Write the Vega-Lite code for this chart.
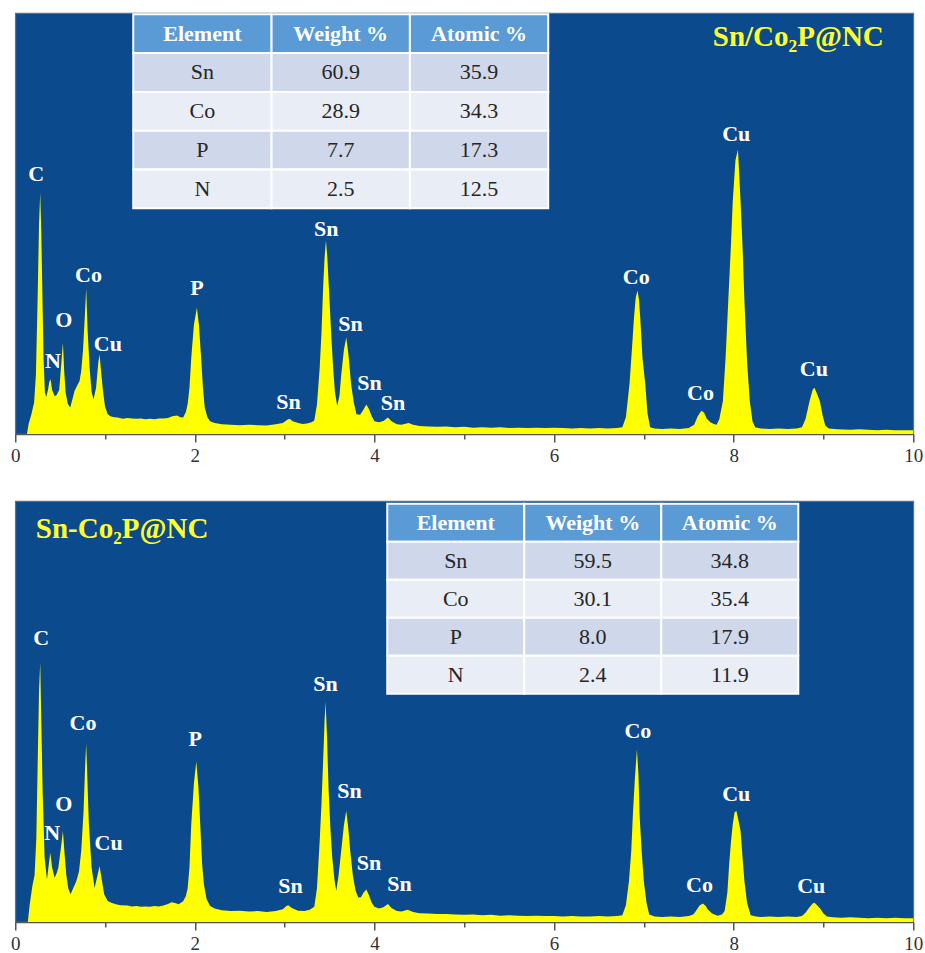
{
  "$schema": "https://vega.github.io/schema/vega-lite/v6.json",
  "background": "white",
  "padding": {"left": 9.25, "top": 12, "right": 0, "bottom": 0},
  "bounds": "flush",
  "spacing": 67,
  "config": {
    "view": {"fill": "#0b4a8d", "stroke": "#6e6e6e", "strokeWidth": 1.2},
    "font": "Liberation Serif",
    "axis": {
      "grid": false,
      "title": null,
      "labelFont": "Liberation Serif",
      "labelFontSize": 19,
      "labelColor": "#333333",
      "labelPadding": 4,
      "labelFlush": false,
      "labelOverlap": false,
      "domainColor": "#555555",
      "domainWidth": 1.5,
      "tickColor": "#555555",
      "tickWidth": 1.5
    }
  },
  "datasets": {
    "specA": [
      {"keV": 0.00, "counts": 0}, {"keV": 0.13, "counts": 0}, {"keV": 0.15, "counts": 2.5}, {"keV": 0.18, "counts": 4.7},
      {"keV": 0.21, "counts": 7.5}, {"keV": 0.23, "counts": 14}, {"keV": 0.25, "counts": 33}, {"keV": 0.265, "counts": 50},
      {"keV": 0.278, "counts": 57.3}, {"keV": 0.29, "counts": 48}, {"keV": 0.30, "counts": 36}, {"keV": 0.315, "counts": 18},
      {"keV": 0.33, "counts": 10}, {"keV": 0.345, "counts": 8.8}, {"keV": 0.365, "counts": 10.5}, {"keV": 0.38, "counts": 12.5},
      {"keV": 0.393, "counts": 13.0}, {"keV": 0.41, "counts": 10.5}, {"keV": 0.438, "counts": 9.0}, {"keV": 0.46, "counts": 9.2},
      {"keV": 0.49, "counts": 10.5}, {"keV": 0.51, "counts": 16}, {"keV": 0.531, "counts": 21.7}, {"keV": 0.545, "counts": 15},
      {"keV": 0.56, "counts": 10}, {"keV": 0.585, "counts": 7.2}, {"keV": 0.612, "counts": 6.3}, {"keV": 0.64, "counts": 8.5},
      {"keV": 0.66, "counts": 10.2}, {"keV": 0.69, "counts": 11.5}, {"keV": 0.716, "counts": 12.6}, {"keV": 0.735, "counts": 15},
      {"keV": 0.754, "counts": 19.7}, {"keV": 0.775, "counts": 28}, {"keV": 0.79, "counts": 34.6}, {"keV": 0.805, "counts": 25},
      {"keV": 0.828, "counts": 15.7}, {"keV": 0.85, "counts": 10}, {"keV": 0.872, "counts": 8.2}, {"keV": 0.90, "counts": 11},
      {"keV": 0.925, "counts": 17}, {"keV": 0.939, "counts": 18.9}, {"keV": 0.955, "counts": 15}, {"keV": 0.977, "counts": 10.2},
      {"keV": 1.00, "counts": 6.5}, {"keV": 1.03, "counts": 4.7}, {"keV": 1.06, "counts": 4.2}, {"keV": 1.10, "counts": 4.0},
      {"keV": 1.14, "counts": 3.9}, {"keV": 1.20, "counts": 3.6}, {"keV": 1.25, "counts": 3.8}, {"keV": 1.30, "counts": 3.7},
      {"keV": 1.35, "counts": 3.6}, {"keV": 1.40, "counts": 3.7}, {"keV": 1.45, "counts": 3.5}, {"keV": 1.50, "counts": 3.6},
      {"keV": 1.55, "counts": 3.5}, {"keV": 1.60, "counts": 3.7}, {"keV": 1.65, "counts": 3.7}, {"keV": 1.70, "counts": 3.8},
      {"keV": 1.75, "counts": 4.2}, {"keV": 1.80, "counts": 4.4}, {"keV": 1.84, "counts": 4.0}, {"keV": 1.87, "counts": 3.9},
      {"keV": 1.90, "counts": 5.2}, {"keV": 1.92, "counts": 7.1}, {"keV": 1.94, "counts": 11}, {"keV": 1.96, "counts": 18.1},
      {"keV": 1.99, "counts": 26}, {"keV": 2.023, "counts": 30.0}, {"keV": 2.045, "counts": 26}, {"keV": 2.07, "counts": 18.1},
      {"keV": 2.09, "counts": 11}, {"keV": 2.11, "counts": 6.3}, {"keV": 2.14, "counts": 4.0}, {"keV": 2.17, "counts": 3.0},
      {"keV": 2.22, "counts": 2.6}, {"keV": 2.30, "counts": 2.3}, {"keV": 2.40, "counts": 2.2}, {"keV": 2.50, "counts": 2.1},
      {"keV": 2.60, "counts": 2.2}, {"keV": 2.70, "counts": 2.1}, {"keV": 2.80, "counts": 2.0}, {"keV": 2.90, "counts": 2.3},
      {"keV": 2.98, "counts": 2.6}, {"keV": 3.03, "counts": 3.4}, {"keV": 3.055, "counts": 3.6}, {"keV": 3.09, "counts": 3.0},
      {"keV": 3.15, "counts": 2.6}, {"keV": 3.20, "counts": 2.4}, {"keV": 3.25, "counts": 2.5}, {"keV": 3.30, "counts": 2.8},
      {"keV": 3.33, "counts": 3.2}, {"keV": 3.36, "counts": 7}, {"keV": 3.39, "counts": 15.7}, {"keV": 3.41, "counts": 24},
      {"keV": 3.43, "counts": 35.5}, {"keV": 3.445, "counts": 42}, {"keV": 3.46, "counts": 46.0}, {"keV": 3.475, "counts": 42},
      {"keV": 3.50, "counts": 31.6}, {"keV": 3.52, "counts": 23}, {"keV": 3.54, "counts": 15.7}, {"keV": 3.56, "counts": 10},
      {"keV": 3.585, "counts": 6.7}, {"keV": 3.61, "counts": 9}, {"keV": 3.63, "counts": 14}, {"keV": 3.66, "counts": 20},
      {"keV": 3.686, "counts": 22.9}, {"keV": 3.71, "counts": 19}, {"keV": 3.74, "counts": 11.8}, {"keV": 3.77, "counts": 7.5},
      {"keV": 3.80, "counts": 4.7}, {"keV": 3.84, "counts": 4.6}, {"keV": 3.87, "counts": 5.5}, {"keV": 3.91, "counts": 7.0},
      {"keV": 3.94, "counts": 5.9}, {"keV": 3.97, "counts": 4.2}, {"keV": 4.00, "counts": 3.0}, {"keV": 4.05, "counts": 2.8},
      {"keV": 4.10, "counts": 3.1}, {"keV": 4.15, "counts": 3.9}, {"keV": 4.19, "counts": 3.0}, {"keV": 4.25, "counts": 2.3},
      {"keV": 4.30, "counts": 2.2}, {"keV": 4.38, "counts": 2.6}, {"keV": 4.43, "counts": 2.2}, {"keV": 4.50, "counts": 1.9},
      {"keV": 4.60, "counts": 1.8}, {"keV": 4.70, "counts": 1.7}, {"keV": 4.80, "counts": 1.8}, {"keV": 4.90, "counts": 1.6},
      {"keV": 5.00, "counts": 1.7}, {"keV": 5.10, "counts": 1.5}, {"keV": 5.20, "counts": 1.6}, {"keV": 5.30, "counts": 1.5},
      {"keV": 5.40, "counts": 1.6}, {"keV": 5.50, "counts": 1.4}, {"keV": 5.60, "counts": 1.5}, {"keV": 5.70, "counts": 1.4},
      {"keV": 5.80, "counts": 1.5}, {"keV": 5.90, "counts": 1.4}, {"keV": 6.00, "counts": 1.5}, {"keV": 6.10, "counts": 1.4},
      {"keV": 6.20, "counts": 1.3}, {"keV": 6.30, "counts": 1.4}, {"keV": 6.40, "counts": 1.3}, {"keV": 6.50, "counts": 1.4},
      {"keV": 6.60, "counts": 1.3}, {"keV": 6.70, "counts": 1.4}, {"keV": 6.76, "counts": 1.6}, {"keV": 6.80, "counts": 4},
      {"keV": 6.84, "counts": 11.8}, {"keV": 6.87, "counts": 21}, {"keV": 6.89, "counts": 27.6}, {"keV": 6.91, "counts": 32.5},
      {"keV": 6.93, "counts": 34.0}, {"keV": 6.945, "counts": 32}, {"keV": 6.96, "counts": 27.6}, {"keV": 6.985, "counts": 18},
      {"keV": 7.016, "counts": 11.8}, {"keV": 7.04, "counts": 5}, {"keV": 7.07, "counts": 1.6}, {"keV": 7.12, "counts": 1.3},
      {"keV": 7.20, "counts": 1.2}, {"keV": 7.30, "counts": 1.3}, {"keV": 7.40, "counts": 1.2}, {"keV": 7.50, "counts": 1.4},
      {"keV": 7.56, "counts": 2.2}, {"keV": 7.60, "counts": 4.2}, {"keV": 7.64, "counts": 5.5}, {"keV": 7.67, "counts": 5.1},
      {"keV": 7.70, "counts": 3.7}, {"keV": 7.74, "counts": 2.8}, {"keV": 7.78, "counts": 2.4}, {"keV": 7.81, "counts": 2.2},
      {"keV": 7.84, "counts": 3.5}, {"keV": 7.88, "counts": 7.8}, {"keV": 7.91, "counts": 18}, {"keV": 7.94, "counts": 31.6},
      {"keV": 7.97, "counts": 45}, {"keV": 7.99, "counts": 55.3}, {"keV": 8.02, "counts": 65}, {"keV": 8.048, "counts": 67.6},
      {"keV": 8.077, "counts": 55.3}, {"keV": 8.10, "counts": 44}, {"keV": 8.12, "counts": 31.6}, {"keV": 8.15, "counts": 17},
      {"keV": 8.18, "counts": 7.8}, {"keV": 8.21, "counts": 3}, {"keV": 8.24, "counts": 1.6}, {"keV": 8.30, "counts": 1.3},
      {"keV": 8.40, "counts": 1.2}, {"keV": 8.50, "counts": 1.3}, {"keV": 8.60, "counts": 1.2}, {"keV": 8.70, "counts": 1.3},
      {"keV": 8.76, "counts": 1.6}, {"keV": 8.80, "counts": 3.5}, {"keV": 8.845, "counts": 7.8}, {"keV": 8.88, "counts": 10.5},
      {"keV": 8.90, "counts": 11.0}, {"keV": 8.93, "counts": 9.5}, {"keV": 8.96, "counts": 7.8}, {"keV": 8.99, "counts": 4.5},
      {"keV": 9.02, "counts": 2.0}, {"keV": 9.06, "counts": 1.3}, {"keV": 9.15, "counts": 1.1}, {"keV": 9.30, "counts": 1.0},
      {"keV": 9.40, "counts": 1.1}, {"keV": 9.50, "counts": 1.0}, {"keV": 9.60, "counts": 0.9}, {"keV": 9.70, "counts": 1.0},
      {"keV": 9.80, "counts": 0.9}, {"keV": 9.90, "counts": 0.9}, {"keV": 10.0, "counts": 0.9}
    ],
    "specB": [
      {"keV": 0.00, "counts": 0}, {"keV": 0.14, "counts": 0}, {"keV": 0.16, "counts": 4}, {"keV": 0.19, "counts": 8.5},
      {"keV": 0.215, "counts": 11.1}, {"keV": 0.235, "counts": 20}, {"keV": 0.25, "counts": 38}, {"keV": 0.265, "counts": 55},
      {"keV": 0.278, "counts": 61.6}, {"keV": 0.29, "counts": 48}, {"keV": 0.305, "counts": 31}, {"keV": 0.327, "counts": 15.3},
      {"keV": 0.353, "counts": 10.1}, {"keV": 0.37, "counts": 13}, {"keV": 0.39, "counts": 16.5}, {"keV": 0.41, "counts": 13},
      {"keV": 0.438, "counts": 10.5}, {"keV": 0.46, "counts": 11.5}, {"keV": 0.48, "counts": 12.9}, {"keV": 0.505, "counts": 17},
      {"keV": 0.531, "counts": 21.6}, {"keV": 0.55, "counts": 16}, {"keV": 0.568, "counts": 11.3}, {"keV": 0.59, "counts": 8},
      {"keV": 0.616, "counts": 6.6}, {"keV": 0.645, "counts": 8}, {"keV": 0.68, "counts": 9.7}, {"keV": 0.71, "counts": 12},
      {"keV": 0.735, "counts": 16.9}, {"keV": 0.76, "counts": 26}, {"keV": 0.78, "counts": 38}, {"keV": 0.79, "counts": 42.4},
      {"keV": 0.80, "counts": 36}, {"keV": 0.82, "counts": 23.2}, {"keV": 0.85, "counts": 13}, {"keV": 0.883, "counts": 8.1},
      {"keV": 0.91, "counts": 10.5}, {"keV": 0.939, "counts": 13.3}, {"keV": 0.96, "counts": 10.5}, {"keV": 0.99, "counts": 6.6},
      {"keV": 1.03, "counts": 5}, {"keV": 1.07, "counts": 4.6}, {"keV": 1.12, "counts": 4.2}, {"keV": 1.17, "counts": 4.0},
      {"keV": 1.25, "counts": 3.9}, {"keV": 1.30, "counts": 3.7}, {"keV": 1.35, "counts": 3.8}, {"keV": 1.40, "counts": 3.6},
      {"keV": 1.45, "counts": 3.7}, {"keV": 1.50, "counts": 3.6}, {"keV": 1.55, "counts": 3.8}, {"keV": 1.60, "counts": 3.7},
      {"keV": 1.65, "counts": 3.9}, {"keV": 1.70, "counts": 4.3}, {"keV": 1.74, "counts": 4.7}, {"keV": 1.78, "counts": 4.5},
      {"keV": 1.82, "counts": 4.2}, {"keV": 1.87, "counts": 4.9}, {"keV": 1.90, "counts": 6.2}, {"keV": 1.92, "counts": 8},
      {"keV": 1.94, "counts": 13}, {"keV": 1.96, "counts": 23.2}, {"keV": 1.99, "counts": 33}, {"keV": 2.016, "counts": 38.1},
      {"keV": 2.04, "counts": 32}, {"keV": 2.06, "counts": 23.2}, {"keV": 2.08, "counts": 14}, {"keV": 2.10, "counts": 9.0},
      {"keV": 2.13, "counts": 5.5}, {"keV": 2.17, "counts": 3.8}, {"keV": 2.22, "counts": 3.2}, {"keV": 2.30, "counts": 2.8},
      {"keV": 2.40, "counts": 2.6}, {"keV": 2.50, "counts": 2.7}, {"keV": 2.60, "counts": 2.5}, {"keV": 2.70, "counts": 2.6},
      {"keV": 2.80, "counts": 2.4}, {"keV": 2.90, "counts": 2.6}, {"keV": 2.98, "counts": 3.0}, {"keV": 3.02, "counts": 3.8},
      {"keV": 3.04, "counts": 4.0}, {"keV": 3.08, "counts": 3.3}, {"keV": 3.15, "counts": 2.7}, {"keV": 3.22, "counts": 2.6},
      {"keV": 3.28, "counts": 2.9}, {"keV": 3.33, "counts": 3.6}, {"keV": 3.36, "counts": 8}, {"keV": 3.39, "counts": 19.2},
      {"keV": 3.41, "counts": 28}, {"keV": 3.43, "counts": 39.0}, {"keV": 3.445, "counts": 48}, {"keV": 3.456, "counts": 52.3},
      {"keV": 3.47, "counts": 45}, {"keV": 3.49, "counts": 31.1}, {"keV": 3.51, "counts": 22}, {"keV": 3.53, "counts": 15.3},
      {"keV": 3.555, "counts": 10}, {"keV": 3.575, "counts": 7.4}, {"keV": 3.60, "counts": 11}, {"keV": 3.63, "counts": 16.9},
      {"keV": 3.66, "counts": 23}, {"keV": 3.686, "counts": 26.4}, {"keV": 3.71, "counts": 22}, {"keV": 3.73, "counts": 16.9},
      {"keV": 3.76, "counts": 11}, {"keV": 3.79, "counts": 7.4}, {"keV": 3.82, "counts": 5.8}, {"keV": 3.85, "counts": 5.9},
      {"keV": 3.88, "counts": 7.0}, {"keV": 3.91, "counts": 7.7}, {"keV": 3.94, "counts": 6.3}, {"keV": 3.97, "counts": 4.6},
      {"keV": 4.00, "counts": 3.6}, {"keV": 4.05, "counts": 3.2}, {"keV": 4.10, "counts": 3.5}, {"keV": 4.15, "counts": 4.3},
      {"keV": 4.19, "counts": 3.3}, {"keV": 4.25, "counts": 2.6}, {"keV": 4.30, "counts": 2.5}, {"keV": 4.37, "counts": 2.9},
      {"keV": 4.43, "counts": 2.4}, {"keV": 4.50, "counts": 2.1}, {"keV": 4.60, "counts": 2.0}, {"keV": 4.70, "counts": 1.9},
      {"keV": 4.80, "counts": 1.9}, {"keV": 4.90, "counts": 1.8}, {"keV": 5.00, "counts": 1.7}, {"keV": 5.10, "counts": 1.8},
      {"keV": 5.20, "counts": 1.6}, {"keV": 5.30, "counts": 1.7}, {"keV": 5.40, "counts": 1.5}, {"keV": 5.50, "counts": 1.6},
      {"keV": 5.60, "counts": 1.5}, {"keV": 5.70, "counts": 1.4}, {"keV": 5.80, "counts": 1.5}, {"keV": 5.90, "counts": 1.4},
      {"keV": 6.00, "counts": 1.4}, {"keV": 6.10, "counts": 1.3}, {"keV": 6.20, "counts": 1.4}, {"keV": 6.30, "counts": 1.3},
      {"keV": 6.40, "counts": 1.3}, {"keV": 6.50, "counts": 1.4}, {"keV": 6.60, "counts": 1.3}, {"keV": 6.70, "counts": 1.4},
      {"keV": 6.76, "counts": 1.6}, {"keV": 6.80, "counts": 4}, {"keV": 6.834, "counts": 9.7}, {"keV": 6.86, "counts": 17},
      {"keV": 6.878, "counts": 25.6}, {"keV": 6.90, "counts": 34}, {"keV": 6.923, "counts": 41.0}, {"keV": 6.94, "counts": 35},
      {"keV": 6.952, "counts": 25.6}, {"keV": 6.975, "counts": 17}, {"keV": 7.00, "counts": 9.7}, {"keV": 7.03, "counts": 4.5},
      {"keV": 7.06, "counts": 1.8}, {"keV": 7.12, "counts": 1.3}, {"keV": 7.20, "counts": 1.2}, {"keV": 7.30, "counts": 1.3},
      {"keV": 7.40, "counts": 1.2}, {"keV": 7.50, "counts": 1.4}, {"keV": 7.55, "counts": 1.8}, {"keV": 7.58, "counts": 2.6},
      {"keV": 7.62, "counts": 3.9}, {"keV": 7.658, "counts": 4.4}, {"keV": 7.69, "counts": 3.8}, {"keV": 7.71, "counts": 3.0},
      {"keV": 7.76, "counts": 2.0}, {"keV": 7.82, "counts": 1.5}, {"keV": 7.87, "counts": 1.8}, {"keV": 7.90, "counts": 2.6},
      {"keV": 7.93, "counts": 7}, {"keV": 7.95, "counts": 13.7}, {"keV": 7.97, "counts": 19}, {"keV": 7.99, "counts": 23.2},
      {"keV": 8.01, "counts": 26}, {"keV": 8.03, "counts": 26.4}, {"keV": 8.05, "counts": 24.5}, {"keV": 8.077, "counts": 21.6},
      {"keV": 8.10, "counts": 15}, {"keV": 8.12, "counts": 9.7}, {"keV": 8.15, "counts": 4.5}, {"keV": 8.19, "counts": 1.6},
      {"keV": 8.25, "counts": 1.3}, {"keV": 8.30, "counts": 1.2}, {"keV": 8.40, "counts": 1.3}, {"keV": 8.50, "counts": 1.2},
      {"keV": 8.60, "counts": 1.3}, {"keV": 8.70, "counts": 1.2}, {"keV": 8.76, "counts": 1.4}, {"keV": 8.80, "counts": 2.2},
      {"keV": 8.845, "counts": 3.5}, {"keV": 8.88, "counts": 4.4}, {"keV": 8.90, "counts": 4.6}, {"keV": 8.93, "counts": 4.0},
      {"keV": 8.97, "counts": 3.0}, {"keV": 9.00, "counts": 2.0}, {"keV": 9.04, "counts": 1.3}, {"keV": 9.10, "counts": 1.1},
      {"keV": 9.20, "counts": 1.0}, {"keV": 9.30, "counts": 1.1}, {"keV": 9.40, "counts": 1.0}, {"keV": 9.50, "counts": 0.9},
      {"keV": 9.60, "counts": 1.0}, {"keV": 9.70, "counts": 0.9}, {"keV": 9.80, "counts": 1.0}, {"keV": 9.90, "counts": 0.9},
      {"keV": 10.0, "counts": 0.9}
    ],
    "peaksA": [
      {"keV": 0.234, "counts": 61.8, "line": "C"},
      {"keV": 0.42, "counts": 17.3, "line": "N"},
      {"keV": 0.542, "counts": 27.1, "line": "O"},
      {"keV": 0.816, "counts": 37.8, "line": "Co"},
      {"keV": 1.032, "counts": 21.4, "line": "Cu"},
      {"keV": 2.023, "counts": 34.6, "line": "P"},
      {"keV": 3.043, "counts": 7.7, "line": "Sn"},
      {"keV": 3.463, "counts": 48.6, "line": "Sn"},
      {"keV": 3.734, "counts": 26.2, "line": "Sn"},
      {"keV": 3.945, "counts": 12.2, "line": "Sn"},
      {"keV": 4.206, "counts": 7.3, "line": "Sn"},
      {"keV": 6.915, "counts": 37.4, "line": "Co"},
      {"keV": 7.631, "counts": 9.8, "line": "Co"},
      {"keV": 8.029, "counts": 71.2, "line": "Cu"},
      {"keV": 8.894, "counts": 15.4, "line": "Cu"}
    ],
    "peaksB": [
      {"keV": 0.29, "counts": 67.5, "line": "C"},
      {"keV": 0.412, "counts": 21.2, "line": "N"},
      {"keV": 0.542, "counts": 28.1, "line": "O"},
      {"keV": 0.754, "counts": 47.3, "line": "Co"},
      {"keV": 1.039, "counts": 18.8, "line": "Cu"},
      {"keV": 2.004, "counts": 43.4, "line": "P"},
      {"keV": 3.066, "counts": 8.6, "line": "Sn"},
      {"keV": 3.456, "counts": 56.5, "line": "Sn"},
      {"keV": 3.723, "counts": 31.1, "line": "Sn"},
      {"keV": 3.938, "counts": 14.1, "line": "Sn"},
      {"keV": 4.28, "counts": 9.0, "line": "Sn"},
      {"keV": 6.934, "counts": 45.4, "line": "Co"},
      {"keV": 7.62, "counts": 8.8, "line": "Co"},
      {"keV": 8.029, "counts": 30.3, "line": "Cu"},
      {"keV": 8.864, "counts": 8.6, "line": "Cu"}
    ],
    "sampleA": [{"keV": 8.72, "counts": 94.4, "name": "Sn/Co₂P@NC"}],
    "sampleB": [{"keV": 1.19, "counts": 93.3, "name": "Sn-Co₂P@NC"}],
    "tableA": [
      {"row": 0, "col": 0, "r": "Element", "v": "Element"},
      {"row": 0, "col": 1, "r": "Element", "v": "Weight %"},
      {"row": 0, "col": 2, "r": "Element", "v": "Atomic %"},
      {"row": 1, "col": 0, "r": "Sn", "v": "Sn"}, {"row": 1, "col": 1, "r": "Sn", "v": "60.9"}, {"row": 1, "col": 2, "r": "Sn", "v": "35.9"},
      {"row": 2, "col": 0, "r": "Co", "v": "Co"}, {"row": 2, "col": 1, "r": "Co", "v": "28.9"}, {"row": 2, "col": 2, "r": "Co", "v": "34.3"},
      {"row": 3, "col": 0, "r": "P", "v": "P"}, {"row": 3, "col": 1, "r": "P", "v": "7.7"}, {"row": 3, "col": 2, "r": "P", "v": "17.3"},
      {"row": 4, "col": 0, "r": "N", "v": "N"}, {"row": 4, "col": 1, "r": "N", "v": "2.5"}, {"row": 4, "col": 2, "r": "N", "v": "12.5"}
    ],
    "tableB": [
      {"row": 0, "col": 0, "r": "Element", "v": "Element"},
      {"row": 0, "col": 1, "r": "Element", "v": "Weight %"},
      {"row": 0, "col": 2, "r": "Element", "v": "Atomic %"},
      {"row": 1, "col": 0, "r": "Sn", "v": "Sn"}, {"row": 1, "col": 1, "r": "Sn", "v": "59.5"}, {"row": 1, "col": 2, "r": "Sn", "v": "34.8"},
      {"row": 2, "col": 0, "r": "Co", "v": "Co"}, {"row": 2, "col": 1, "r": "Co", "v": "30.1"}, {"row": 2, "col": 2, "r": "Co", "v": "35.4"},
      {"row": 3, "col": 0, "r": "P", "v": "P"}, {"row": 3, "col": 1, "r": "P", "v": "8.0"}, {"row": 3, "col": 2, "r": "P", "v": "17.9"},
      {"row": 4, "col": 0, "r": "N", "v": "N"}, {"row": 4, "col": 1, "r": "N", "v": "2.4"}, {"row": 4, "col": 2, "r": "N", "v": "11.9"}
    ]
  },
  "vconcat": [
    {
      "width": 898,
      "height": 421,
      "resolve": {"scale": {"x": "independent", "y": "independent", "fill": "independent"}},
      "layer": [
        {
          "encoding": {
            "x": {"field": "keV", "type": "quantitative", "scale": {"domain": [0, 10], "nice": false, "zero": false},
                  "axis": {"values": [0, 1, 2, 3, 4, 5, 6, 7, 8, 9, 10], "format": "d",
                           "labelExpr": "datum.value % 2 === 0 ? datum.label : ''",
                           "tickSize": {"condition": {"test": "datum.value % 2 === 0", "value": 8}, "value": 5}}},
            "y": {"field": "counts", "type": "quantitative", "scale": {"domain": [0, 100], "nice": false}, "axis": null}
          },
          "layer": [
            {"data": {"name": "specA"}, "mark": {"type": "area", "color": "#ffff00", "interpolate": "linear"}},
            {"data": {"name": "peaksA"}, "mark": {"type": "text", "font": "Liberation Serif", "fontWeight": "bold", "fontSize": 22, "color": "white", "baseline": "middle", "align": "center"},
             "encoding": {"text": {"field": "line"}}},
            {"data": {"name": "sampleA"}, "mark": {"type": "text", "font": "Liberation Serif", "fontWeight": "bold", "fontSize": 29, "color": "#ffff2e", "baseline": "middle", "align": "center"},
             "encoding": {"text": {"field": "name"}}}
          ]
        },
        {
          "data": {"name": "tableA"},
          "transform": [
            {"calculate": "datum.col + 1", "as": "colEnd"},
            {"calculate": "datum.row + 1", "as": "rowEnd"},
            {"calculate": "datum.col + 0.5", "as": "colMid"},
            {"calculate": "datum.row + 0.5", "as": "rowMid"}
          ],
          "layer": [
            {"mark": {"type": "rect", "stroke": "white", "strokeWidth": 2},
             "encoding": {
               "x": {"field": "col", "type": "quantitative", "axis": null, "scale": {"domain": [-0.853, 5.639], "nice": false, "zero": false}},
               "x2": {"field": "colEnd"},
               "y": {"field": "row", "type": "quantitative", "axis": null, "scale": {"domain": [-0.0335, 10.817], "nice": false, "zero": false, "reverse": true}},
               "y2": {"field": "rowEnd"},
               "fill": {"field": "r", "type": "nominal", "legend": null,
                        "scale": {"domain": ["Element", "Sn", "Co", "P", "N"], "range": ["#5b9bd5", "#cfd8ea", "#e9edf5", "#cfd8ea", "#e9edf5"]}}}},
            {"transform": [{"filter": "datum.row === 0"}],
             "mark": {"type": "text", "font": "Liberation Serif", "fontWeight": "bold", "fontSize": 22, "color": "white", "baseline": "middle", "align": "center"},
             "encoding": {"x": {"field": "colMid", "type": "quantitative"}, "y": {"field": "rowMid", "type": "quantitative"}, "text": {"field": "v"}}},
            {"transform": [{"filter": "datum.row > 0"}],
             "mark": {"type": "text", "font": "Liberation Serif", "fontSize": 22, "color": "#262626", "baseline": "middle", "align": "center"},
             "encoding": {"x": {"field": "colMid", "type": "quantitative"}, "y": {"field": "rowMid", "type": "quantitative"}, "text": {"field": "v"}}}
          ]
        }
      ]
    },
    {
      "width": 898,
      "height": 421,
      "resolve": {"scale": {"x": "independent", "y": "independent", "fill": "independent"}},
      "layer": [
        {
          "encoding": {
            "x": {"field": "keV", "type": "quantitative", "scale": {"domain": [0, 10], "nice": false, "zero": false},
                  "axis": {"values": [0, 1, 2, 3, 4, 5, 6, 7, 8, 9, 10], "format": "d",
                           "labelExpr": "datum.value % 2 === 0 ? datum.label : ''",
                           "tickSize": {"condition": {"test": "datum.value % 2 === 0", "value": 8}, "value": 5}}},
            "y": {"field": "counts", "type": "quantitative", "scale": {"domain": [0, 100], "nice": false}, "axis": null}
          },
          "layer": [
            {"data": {"name": "specB"}, "mark": {"type": "area", "color": "#ffff00", "interpolate": "linear"}},
            {"data": {"name": "peaksB"}, "mark": {"type": "text", "font": "Liberation Serif", "fontWeight": "bold", "fontSize": 22, "color": "white", "baseline": "middle", "align": "center"},
             "encoding": {"text": {"field": "line"}}},
            {"data": {"name": "sampleB"}, "mark": {"type": "text", "font": "Liberation Serif", "fontWeight": "bold", "fontSize": 29, "color": "#ffff2e", "baseline": "middle", "align": "center"},
             "encoding": {"text": {"field": "name"}}}
          ]
        },
        {
          "data": {"name": "tableB"},
          "transform": [
            {"calculate": "datum.col + 1", "as": "colEnd"},
            {"calculate": "datum.row + 1", "as": "rowEnd"},
            {"calculate": "datum.col + 0.5", "as": "colMid"},
            {"calculate": "datum.row + 0.5", "as": "rowMid"}
          ],
          "layer": [
            {"mark": {"type": "rect", "stroke": "white", "strokeWidth": 2},
             "encoding": {
               "x": {"field": "col", "type": "quantitative", "axis": null, "scale": {"domain": [-2.715, 3.839], "nice": false, "zero": false}},
               "x2": {"field": "colEnd"},
               "y": {"field": "row", "type": "quantitative", "axis": null, "scale": {"domain": [-0.071, 11.008], "nice": false, "zero": false, "reverse": true}},
               "y2": {"field": "rowEnd"},
               "fill": {"field": "r", "type": "nominal", "legend": null,
                        "scale": {"domain": ["Element", "Sn", "Co", "P", "N"], "range": ["#5b9bd5", "#cfd8ea", "#e9edf5", "#cfd8ea", "#e9edf5"]}}}},
            {"transform": [{"filter": "datum.row === 0"}],
             "mark": {"type": "text", "font": "Liberation Serif", "fontWeight": "bold", "fontSize": 22, "color": "white", "baseline": "middle", "align": "center"},
             "encoding": {"x": {"field": "colMid", "type": "quantitative"}, "y": {"field": "rowMid", "type": "quantitative"}, "text": {"field": "v"}}},
            {"transform": [{"filter": "datum.row > 0"}],
             "mark": {"type": "text", "font": "Liberation Serif", "fontSize": 22, "color": "#262626", "baseline": "middle", "align": "center"},
             "encoding": {"x": {"field": "colMid", "type": "quantitative"}, "y": {"field": "rowMid", "type": "quantitative"}, "text": {"field": "v"}}}
          ]
        }
      ]
    }
  ]
}
